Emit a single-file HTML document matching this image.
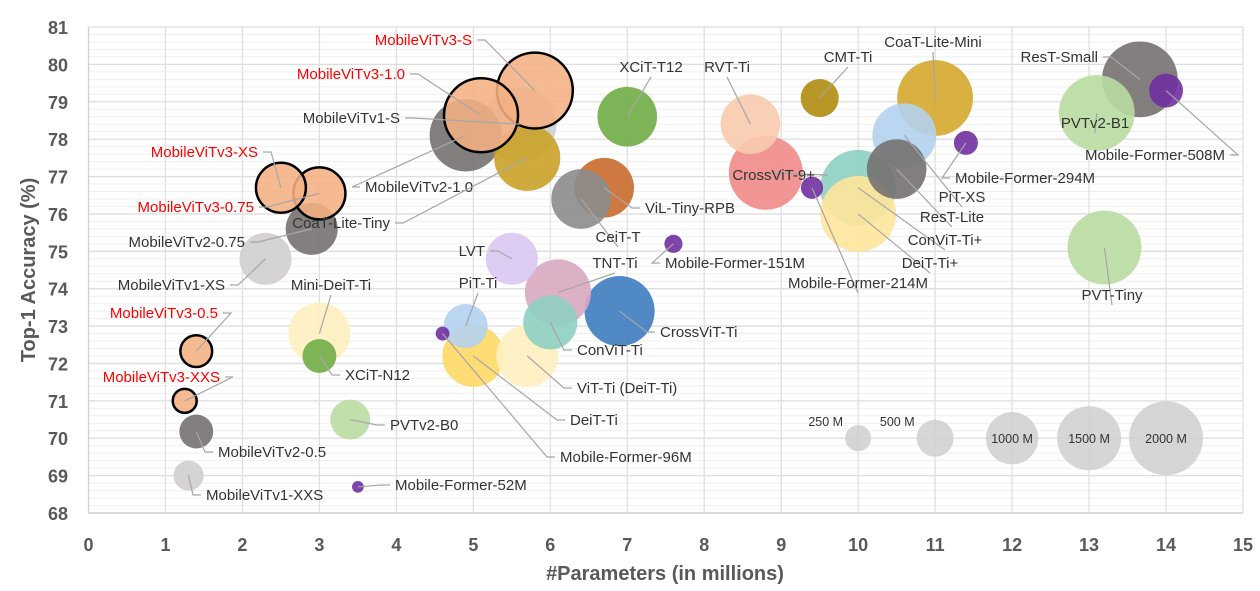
<!DOCTYPE html>
<html><head><meta charset="utf-8"><style>
html,body{margin:0;padding:0;background:#fff;}
svg text{font-family:"Liberation Sans",sans-serif;}
</style></head>
<body>
<svg id="chart" width="1260" height="586" viewBox="0 0 1260 586" xmlns="http://www.w3.org/2000/svg">
<g id="grid"></g>
<g id="axes"></g>
<g id="bubbles"></g>
<g id="labels"></g>
<text x="665" y="580" text-anchor="middle" font-size="20" font-weight="bold" fill="#595959">#Parameters (in millions)</text>
<text transform="translate(35,270) rotate(-90)" text-anchor="middle" font-size="20" font-weight="bold" fill="#595959">Top-1 Accuracy (%)</text>
</svg>
<script>
const names=["MobileViTv1-S","MobileViTv3-S","MobileViTv3-1.0","MobileViTv2-1.0","CoaT-Lite-Tiny","MobileViTv3-XS","MobileViTv3-0.75","MobileViTv2-0.75","MobileViTv1-XS","XCiT-T12","RVT-Ti","CMT-Ti","CoaT-Lite-Mini","ResT-Small","PVTv2-B1","Mobile-Former-508M","Mobile-Former-294M","PiT-XS","ResT-Lite","CrossViT-9+","ConViT-Ti+","DeiT-Ti+","Mobile-Former-214M","ViL-Tiny-RPB","CeiT-T","Mobile-Former-151M","LVT","TNT-Ti","CrossViT-Ti","PVT-Tiny","Mini-DeiT-Ti","PiT-Ti","ConViT-Ti","Mobile-Former-96M","DeiT-Ti","ViT-Ti (DeiT-Ti)","XCiT-N12","MobileViTv3-0.5","MobileViTv3-XXS","MobileViTv2-0.5","MobileViTv1-XXS","PVTv2-B0","Mobile-Former-52M"];
const params=[5.6,5.8,5.1,4.9,5.7,2.5,3.0,2.9,2.3,7.0,8.6,9.5,11.0,13.66,13.1,14.0,11.4,10.6,10.5,8.8,10.0,10.0,9.4,6.7,6.4,7.6,5.5,6.1,6.9,13.2,3.0,4.9,6.0,4.6,5.0,5.7,3.0,1.4,1.25,1.4,1.3,3.4,3.5];
const accuracy=[78.4,79.3,78.64,78.1,77.5,76.7,76.55,75.6,74.8,78.6,78.4,79.1,79.1,79.6,78.7,79.3,77.9,78.1,77.2,77.1,76.7,76.0,76.7,76.7,76.4,75.2,74.8,73.9,73.4,75.1,72.8,73.0,73.1,72.8,72.2,72.2,72.2,72.33,71.0,70.18,69.0,70.5,68.7];
const flops=[2000,2100,2000,1900,1600,910,990,990,990,1300,1300,530,2100,2100,2100,420,210,1500,1300,2000,2100,2100,180,1300,1300,120,990,1600,1800,2000,1400,710,1070,70,1400,1400,420,370,210,420,330,580,50];
const colors=["#d0cece","#f4b183","#f4b183","#767171","#c9a227","#f4b183","#f4b183","#767171","#d0cece","#70ad47","#f8cbad","#b08c10","#d4a82e","#767171","#b9dca2","#7030a0","#7030a0","#b4d2ee","#767171","#f08a8a","#8ecfc2","#ffe69b","#7030a0","#c96a2a","#8c8c8c","#7030a0","#d9c8f2","#d8a8c0","#3d7cc0","#b9dca2","#fff0c0","#b4d2ee","#8ecfc2","#7030a0","#ffd966","#fff0c0","#70ad47","#f4b183","#f4b183","#767171","#d0cece","#b9dca2","#7030a0"];
const highlighted=[0,1,1,0,0,1,1,0,0,0,0,0,0,0,0,0,0,0,0,0,0,0,0,0,0,0,0,0,0,0,0,0,0,0,0,0,0,1,1,0,0,0,0];
// label layout: [x, y, anchor] in px
const labelPos=[[400,123,"end"],[472,45,"end"],[405,79,"end"],[365,192,"start"],[390,228,"end"],[258,157,"end"],[254,212,"end"],[245,247,"end"],[225,290,"end"],[651,72,"middle"],[727,72,"middle"],[848,62,"middle"],[933,47,"middle"],[1098,62,"end"],[1095,128,"middle"],[1225,160,"end"],[955,183,"start"],[962,202,"middle"],[952,222,"middle"],[815,180,"end"],[945,245,"middle"],[930,268,"middle"],[858,288,"middle"],[645,213,"start"],[618,242,"middle"],[665,268,"start"],[485,256,"end"],[615,268,"middle"],[660,337,"start"],[1112,300,"middle"],[331,290,"middle"],[478,288,"middle"],[577,355,"start"],[560,462,"start"],[570,425,"start"],[577,393,"start"],[345,380,"start"],[218,318,"end"],[220,382,"end"],[218,457,"start"],[206,500,"start"],[390,430,"start"],[395,490,"start"]];
const legendSizes=[250,500,1000,1500,2000];
const legendX=[10,11,12,13,14];
const legendLabels=["250 M","500 M","1000 M","1500 M","2000 M"];
const xTicks=[0,1,2,3,4,5,6,7,8,9,10,11,12,13,14,15];
const yTicks=[68,69,70,71,72,73,74,75,76,77,78,79,80,81];

const X0=88.5,X1=1243,Y0=513,Y1=27;
const sx=v=>X0+(v-0)/(15-0)*(X1-X0);
const sy=v=>Y0-(v-68)/(81-68)*(Y0-Y1);
const rr=s=>0.827*Math.sqrt(s);
const NS="http://www.w3.org/2000/svg";
function mk(tag,attrs,parent){const e=document.createElementNS(NS,tag);for(const k in attrs)e.setAttribute(k,attrs[k]);parent.appendChild(e);return e;}
const grid=document.getElementById("grid"),axes=document.getElementById("axes"),bub=document.getElementById("bubbles"),lab=document.getElementById("labels");
for(let v=68;v<81.001;v+=0.2){const y=sy(v);const major=Math.abs(v-Math.round(v))<1e-6;
 const l=mk("line",{x1:X0,x2:X1,y1:y,y2:y,stroke:major?"#dedede":"#efefef","stroke-width":major?1.3:1},grid);
 
 }
xTicks.forEach(t=>{const x=sx(t);const l=mk("line",{x1:x,x2:x,y1:Y1,y2:Y0,stroke:t===0?"#d0d0d0":"#e0e0e0","stroke-width":1.3},grid);
 
 
 const tx=mk("text",{x:x,y:551,"text-anchor":"middle","font-size":18,"font-weight":"bold",fill:"#595959"},axes);tx.textContent=t;
 
 });
mk("line",{x1:X0,x2:X1,y1:Y0,y2:Y0,stroke:"#d0d0d0","stroke-width":1.5},axes);
yTicks.forEach(t=>{const ty=mk("text",{x:68,y:sy(t)+7,"text-anchor":"end","font-size":18,"font-weight":"bold",fill:"#595959"},axes);ty.textContent=t;
 
 });
// legend bubbles
legendSizes.forEach((s,i)=>{const cx=sx(legendX[i]),cy=sy(70),r=rr(s);
 const c=mk("circle",{cx:cx,cy:cy,r:r,fill:"#cfcfcf","fill-opacity":0.85},bub);
 
 
 const inside=i>=2;
 const t=mk("text",{x:inside?cx:cx-r-2,y:inside?cy+5:cy-12,"text-anchor":inside?"middle":"end","font-size":12.5,fill:"#333"},lab);t.textContent=legendLabels[i];
 
 });
// bubble order: non-highlighted by size desc, then highlighted
const idx=names.map((_,i)=>i);
idx.sort((a,b)=>(highlighted[a]-highlighted[b])||(flops[b]-flops[a]));
idx.forEach(i=>{const c=mk("circle",{cx:sx(params[i]),cy:sy(accuracy[i]),r:rr(flops[i]),fill:colors[i],"fill-opacity":highlighted[i]?0.88:0.9,stroke:highlighted[i]?"#000":"none","stroke-width":highlighted[i]?2.5:0},bub);
 
 });
names.forEach((n,i)=>{const [lx,ly,an]=labelPos[i];const cx=sx(params[i]),cy=sy(accuracy[i]);
 let ex=lx;
 if(an==="end")ex=lx+5;else if(an==="start")ex=lx-5;
 if(an!=="middle"){const ln=mk("polyline",{points:`${ex},${ly-5} ${ex+(an==="end"?8:-8)},${ly-5} ${cx},${cy}`,fill:"none",stroke:"#a6a6a6","stroke-width":1.2},lab);
  
  }
 else{const ln=mk("line",{x1:lx,y1:ly+5,x2:cx,y2:cy,stroke:"#a6a6a6","stroke-width":1.2},lab);
  
  }
 const t=mk("text",{x:lx,y:ly,"text-anchor":an,"font-size":15,fill:highlighted[i]?"#ff0000":"#333"},lab);t.textContent=n;
 
 });
</script>
</body></html>
